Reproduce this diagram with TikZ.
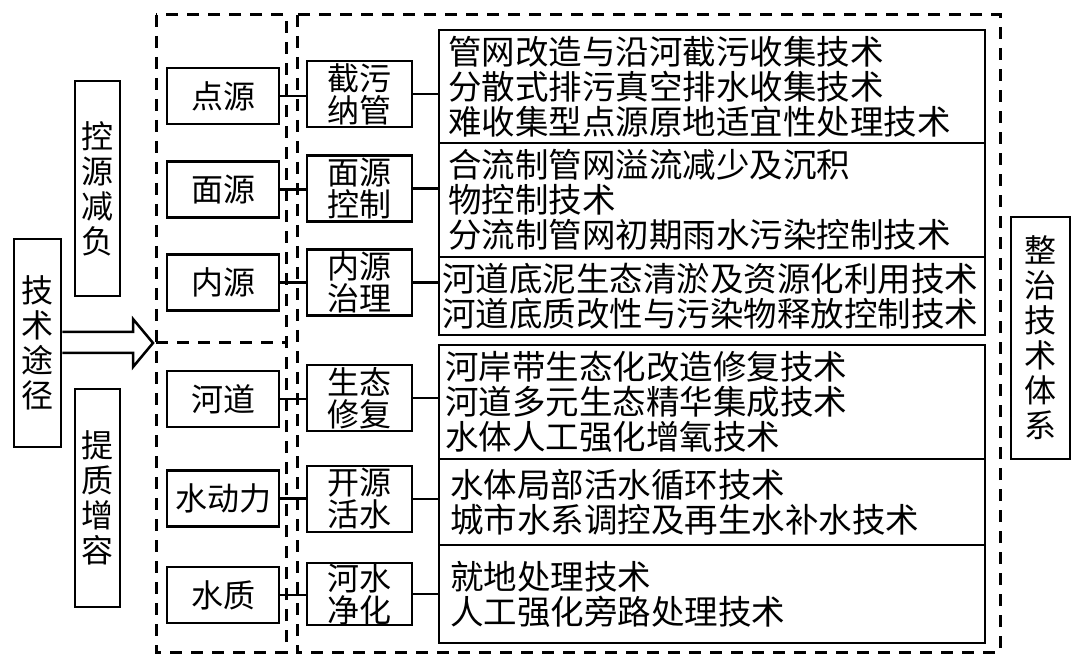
\documentclass[tikz,border=0pt]{standalone}
\usepackage{fontspec}
\setmainfont{Noto Sans CJK SC}
\begin{document}
\begin{tikzpicture}[x=1pt,y=-1pt,
  sbox/.style={draw,line width=2.8pt,inner sep=0pt,align=center,
    font=\fontsize{32}{32}\selectfont},
  lbox/.style={sbox,minimum width=112pt,minimum height=56pt},
  mbox/.style={sbox,minimum width=105pt,minimum height=66pt},
  vbox/.style={sbox,font=\fontsize{32}{35}\selectfont},
  tech/.style={draw,line width=2pt,minimum width=546pt,align=left,inner ysep=0pt,
    font=\fontsize{33.5}{35}\selectfont},
  dbox/.style={draw,line width=3pt,dash pattern=on 12pt off 9pt},
  conn/.style={line width=2.5pt},
  blockarrow/.style={draw,line width=2.5pt,fill=white,line join=miter}]
\useasboundingbox (0,0) rectangle (1080,663);
% dashed groups
\draw[dbox] (156,15) rectangle (286,652);
\draw[dbox] (297,15) rectangle (1000,652);
\draw[dbox] (156,343) -- (286,343);
% vertical labels
\node[vbox,minimum width=47pt,minimum height=208pt] (jstj) at (37.5,343) {技\\术\\途\\径};
\node[vbox,minimum width=45pt,minimum height=215pt] (kyjf) at (97.5,188.5) {控\\源\\减\\负};
\node[vbox,minimum width=45pt,minimum height=218pt] (tzzr) at (97.5,498) {提\\质\\增\\容};
\node[vbox,minimum width=59pt,minimum height=242pt] (zz) at (1040.5,338) {整\\治\\技\\术\\体\\系};
% left boxes
\node[lbox] (ds) at (223,96) {点源};
\node[lbox] (ms) at (223,189.5) {面源};
\node[lbox] (ns) at (223,282.5) {内源};
\node[lbox] (hd) at (223,399) {河道};
\node[lbox] (sdl) at (223,498.5) {水动力};
\node[lbox] (sz) at (223,595) {水质};
% middle boxes
\node[mbox] (m1) at (359.5,94) {截污\\纳管};
\node[mbox] (m2) at (359.5,188.5) {面源\\控制};
\node[mbox] (m3) at (359.5,282.5) {内源\\治理};
\node[mbox] (m4) at (359.5,398) {生态\\修复};
\node[mbox] (m5) at (359.5,499) {开源\\活水};
\node[mbox,minimum height=62pt] (m6) at (359.5,594) {河水\\净化};
% technology boxes
\node[tech,minimum height=113pt,inner xsep=9pt,text width=528pt] (t1) at (712,86.5)
  {管网改造与沿河截污收集技术\\分散式排污真空排水收集技术\\难收集型点源原地适宜性处理技术};
\node[tech,minimum height=114pt,inner xsep=9pt,text width=528pt] (t2) at (712,200)
  {合流制管网溢流减少及沉积\\物控制技术\\分流制管网初期雨水污染控制技术};
\node[tech,minimum height=78pt,inner xsep=3pt,text width=540pt] (t3) at (712,296)
  {河道底泥生态清淤及资源化利用技术\\河道底质改性与污染物释放控制技术};
\node[tech,minimum height=114pt,inner xsep=6pt,text width=534pt] (t4) at (712,402)
  {河岸带生态化改造修复技术\\河道多元生态精华集成技术\\水体人工强化增氧技术};
\node[tech,minimum height=86pt,inner xsep=11pt,text width=524pt] (t5) at (712,502)
  {水体局部活水循环技术\\城市水系调控及再生水补水技术};
\node[tech,minimum height=98pt,inner xsep=11pt,text width=524pt] (t6) at (712,594)
  {就地处理技术\\人工强化旁路处理技术};
% connectors
\foreach \a/\b in {ds/m1,ms/m2,ns/m3,hd/m4,sdl/m5,sz/m6}
  \draw[conn] (\a.east) -- (\a.east -| \b.west);
\foreach \a/\b in {m1/t1,m2/t2,m3/t3,m4/t4,m5/t5,m6/t6}
  \draw[conn] (\a.east) -- (\a.east -| \b.west);
% block arrow
\coordinate (tip) at (153,343);
\draw[blockarrow] (jstj.east |- 0,332) -- (133,332) -- (133,319) -- (tip)
  -- (133,367) -- (133,353) -- (jstj.east |- 0,353);
\end{tikzpicture}
\end{document}
